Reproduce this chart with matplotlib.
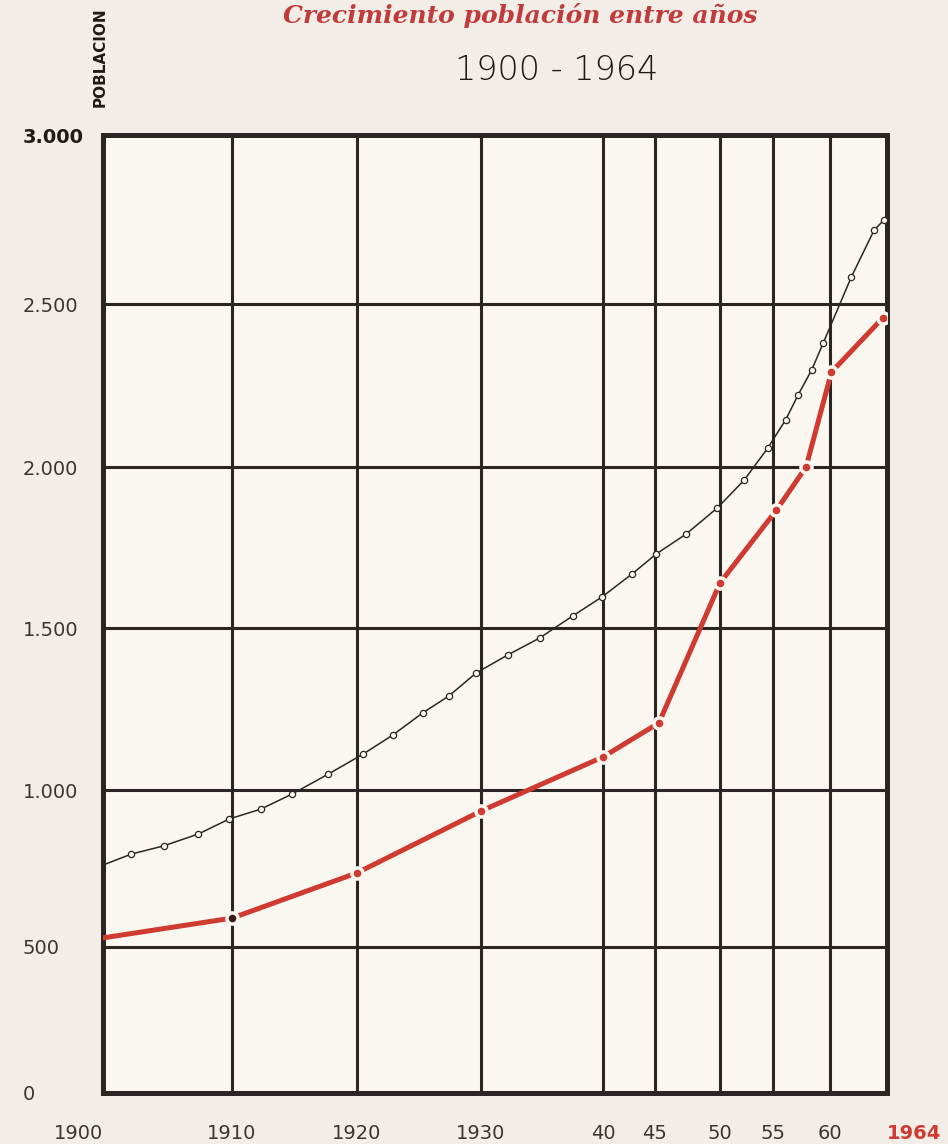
import numpy as np
import matplotlib
matplotlib.use("Agg")
import matplotlib.pyplot as plt

# grid lines of the hand-drawn sheet (years / population, thousands)
grid_years = [1900, 1910, 1920, 1930, 1940, 1945, 1950, 1955, 1960, 1964]
grid_pop = [0, 500, 1000, 1500, 2000, 2500, 3000]
year_labels = ["1900", "1910", "1920", "1930", "40", "45", "50", "55", "60", "1964"]
pop_labels = ["0", "500", "1.000", "1.500", "2.000", "2.500", "3.000"]

# the drawn spacing of those grid lines is uneven, so keep it as the scale
year_spacing = [0, 129, 254, 378, 500, 552, 617, 670, 727, 784]
pop_spacing = [0, 146, 303, 465, 626, 789, 958]

# black curve (open circles)
black_years = [1900, 1902.2, 1904.7, 1907.4, 1909.8, 1912.3, 1914.8, 1917.7, 1920.5,
               1922.9, 1925.3, 1927.4, 1929.6, 1932.2, 1934.8, 1937.5, 1939.9, 1942.8,
               1945.1, 1947.4, 1949.8, 1952.3, 1954.5, 1956.1, 1957.2, 1958.4, 1959.4,
               1961.5, 1963.1, 1963.8]
black_pop = [761, 796, 822, 860, 908, 939, 987, 1049, 1111, 1170, 1238, 1290, 1361,
             1417, 1469, 1537, 1596, 1668, 1730, 1792, 1873, 1960, 2058, 2144, 2221,
             2298, 2380, 2580, 2719, 2749]

# red curve (dots)
red_years = [1900, 1910, 1920, 1930, 1940, 1945.3, 1950, 1955.3, 1957.9, 1960.1, 1963.7]
red_pop = [529, 592, 736, 933, 1102, 1207, 1640, 1866, 2000, 2291, 2457]


def piecewise(src, dst):
    src = np.asarray(src, float)
    dst = np.asarray(dst, float)

    def f(v):
        v = np.asarray(v, float)
        out = np.interp(v, src, dst)
        lo = dst[0] + (v - src[0]) * (dst[1] - dst[0]) / (src[1] - src[0])
        hi = dst[-1] + (v - src[-1]) * (dst[-1] - dst[-2]) / (src[-1] - src[-2])
        out = np.where(v < src[0], lo, out)
        out = np.where(v > src[-1], hi, out)
        return out
    return f


paper = "#f2eee7"
sheet = "#faf7f0"
ink = "#2b2624"
red = "#cf3a31"

fig = plt.figure(figsize=(9.48, 11.44), dpi=100, facecolor=paper)
ax = fig.add_axes([103 / 948, 1 - 1093 / 1144, 784 / 948, 958 / 1144], facecolor=sheet)

ax.set_xscale("function", functions=(piecewise(grid_years, year_spacing),
                                     piecewise(year_spacing, grid_years)))
ax.set_yscale("function", functions=(piecewise(grid_pop, pop_spacing),
                                     piecewise(pop_spacing, grid_pop)))
ax.set_xlim(grid_years[0], grid_years[-1])
ax.set_ylim(grid_pop[0], grid_pop[-1])

ax.plot(black_years, black_pop, color=ink, lw=1.1, marker="o", ms=4.5,
        mfc=sheet, mec=ink, mew=0.9, markevery=list(range(1, len(black_years))), zorder=3)
ax.plot(red_years, red_pop, color=red, lw=3.6, zorder=4, solid_capstyle="round")
ax.plot(red_years[1:], red_pop[1:], ls="none", marker="o", ms=8, mfc=red,
        mec=sheet, mew=2.5, zorder=5)
ax.plot(red_years[1], red_pop[1], ls="none", marker="o", ms=7.5, mfc="#3a1c18",
        mec=sheet, mew=2.0, zorder=6)

ax.set_xticks(grid_years, year_labels)
ax.set_yticks(grid_pop, pop_labels)
ax.grid(True, color=ink, lw=2.2)
ax.set_axisbelow(True)
for s in ax.spines.values():
    s.set_color(ink)
    s.set_linewidth(3.6)

ax.tick_params(axis="both", length=0, labelsize=14, labelcolor="#3a3532")
ax.tick_params(axis="x", pad=22)
ax.tick_params(axis="y", pad=58)
for lab in ax.get_yticklabels():
    lab.set_horizontalalignment("left")
ylabs = ax.get_yticklabels()
ylabs[-1].set_fontweight("bold")
ylabs[-1].set_color("#1e1a18")
xlabs = ax.get_xticklabels()
xlabs[0].set_horizontalalignment("right")
xlabs[-1].set_horizontalalignment("left")
xlabs[-1].set_color(red)
xlabs[-1].set_fontweight("bold")

fig.text(520 / 948, 1 - 15 / 1144, "Crecimiento población entre años",
         ha="center", va="center", family="DejaVu Serif", style="italic",
         weight="bold", fontsize=18, color="#c23b3c")
fig.text(557 / 948, 1 - 70 / 1144, "1900 - 1964", ha="center", va="center",
         family="DejaVu Sans", weight="light", fontsize=24, color="#1e1a18")
fig.text(100 / 948, 1 - 57 / 1144, "POBLACION", rotation=90, ha="center", va="center",
         weight="bold", fontsize=11, color="#1e1a18")

fig.savefig("out.png", dpi=100, facecolor=paper)
